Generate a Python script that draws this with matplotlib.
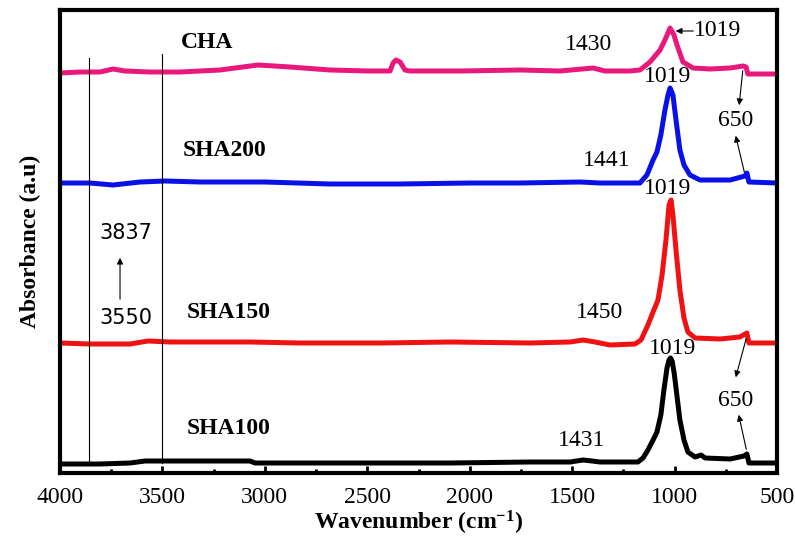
import matplotlib.pyplot as plt
from matplotlib.ticker import MultipleLocator

plt.rcParams['font.family'] = ['Liberation Serif', 'DejaVu Serif']
plt.rcParams['mathtext.fontset'] = 'custom'
plt.rcParams['mathtext.rm'] = 'Liberation Serif'
plt.rcParams['mathtext.bf'] = 'Liberation Serif:bold'
plt.rcParams['mathtext.default'] = 'regular'

cha_wn = [4000, 3902, 3805, 3741, 3683, 3561, 3414, 3219, 3033, 2877, 2682, 2487, 2389,
          2374, 2360, 2340, 2316, 2292, 2047, 1754, 1559, 1398, 1340, 1218, 1169, 1120,
          1071, 1047, 1022, 1003, 988, 959, 910, 827, 729, 666, 651, 642, 500]
cha_abs = [400, 401, 401, 404, 402, 401, 401, 403, 408, 406, 403, 402, 402,
           410, 413, 411, 403, 402, 402, 403, 402, 405, 402, 402, 403, 411,
           423, 433, 445, 438, 428, 411, 405, 404, 405, 407, 406, 399, 399]

sha200_wn = [4000, 3854, 3741, 3609, 3487, 3317, 2999, 2682, 2340, 1999, 1754, 1462, 1364,
             1169, 1135, 1105, 1086, 1067, 1047, 1032, 1022, 1008, 993, 974, 954, 925,
             876, 729, 656, 647, 637, 500]
sha200_abs = [290, 290, 288, 291, 292, 291, 291, 289, 289, 290, 290, 291, 290,
              290, 298, 313, 321, 338, 363, 378, 385, 378, 353, 323, 308, 298,
              293, 293, 297, 300, 291, 290]

sha150_wn = [4000, 3854, 3658, 3570, 3463, 3073, 2828, 2438, 2096, 1706, 1510, 1447, 1388,
             1315, 1193, 1164, 1130, 1105, 1081, 1061, 1042, 1027, 1017, 1008, 993, 974,
             954, 935, 900, 778, 681, 656, 647, 637, 500]
sha150_abs = [130, 129, 129, 132, 131, 131, 130, 130, 131, 130, 131, 133, 131,
              128, 129, 133, 148, 161, 173, 198, 233, 268, 273, 258, 223, 183,
              155, 141, 135, 134, 136, 139, 140, 130, 130]

sha100_wn = [4000, 3805, 3658, 3585, 3317, 3073, 3048, 2584, 2096, 1706, 1510, 1447, 1403,
             1364, 1179, 1154, 1130, 1105, 1086, 1067, 1052, 1037, 1027, 1020, 1012, 1002, 993, 974,
             954, 935, 900, 871, 851, 729, 661, 647, 637, 500]
sha100_abs = [9, 9, 10, 12, 12, 12, 10, 10, 10, 11, 11, 13, 12,
              11, 11, 15, 23, 33, 41, 58, 83, 105, 113, 115, 112, 100, 85, 53,
              33, 21, 16, 18, 15, 14, 17, 19, 10, 10]

tick_pos = [4000, 3500, 3000, 2500, 2000, 1500, 1000, 500]
tick_lbl = ['4000', '3500', '3000', '2500', '2000', '1500', '1000', '500']

fig = plt.figure(figsize=(7.95, 5.4), dpi=100)
ax = fig.add_axes([60 / 795, 1 - 473 / 540, 717 / 795, 463 / 540])

lw = 3.6
ax.plot(cha_wn, cha_abs, color='#e8187c', lw=lw)
ax.plot(sha200_wn, sha200_abs, color='#0a10e8', lw=lw)
ax.plot(sha150_wn, sha150_abs, color='#f01212', lw=lw)
ax.plot(sha100_wn, sha100_abs, color='black', lw=lw)

# marker lines for the OH region
ax.plot([3858, 3858], [10, 415], color='black', lw=0.8)
ax.plot([3502, 3502], [10, 419], color='black', lw=0.8)

bold = dict(fontsize=17, fontweight='bold', ha='center', va='center')
ax.text(3282, 431, 'CHA', **bold)
ax.text(3195, 323, 'SHA200', **bold)
ax.text(3175, 160, 'SHA150', **bold)
ax.text(3175, 45, 'SHA100', **bold)

num = dict(fontsize=17, ha='center', va='center')
ax.text(1418, 428, '1430', **num)
ax.text(790, 442, '1019', **num)
ax.text(1032, 397, '1019', **num)
ax.text(700, 352, '650', **num)
ax.text(1330, 313, '1441', **num)
ax.text(1032, 285, '1019', **num)
ax.text(1364, 160, '1450', **num)
ax.text(1008, 125, '1019', **num)
ax.text(700, 73, '650', **num)
ax.text(1452, 33, '1431', **num)

sans = dict(fontsize=15, ha='center', va='center', family='DejaVu Sans')
ax.text(3678, 240, '3837', **sans)
ax.text(3678, 155, '3550', **sans)

arr = dict(arrowstyle='-|>', color='black', lw=0.8, mutation_scale=9)
ax.annotate('', xy=(1008, 442), xytext=(895, 442), arrowprops=arr)
ax.annotate('', xy=(686, 365), xytext=(666, 405), arrowprops=arr)
ax.annotate('', xy=(705, 340), xytext=(656, 298), arrowprops=arr)
ax.annotate('', xy=(705, 93), xytext=(647, 137), arrowprops=arr)
ax.annotate('', xy=(690, 61), xytext=(647, 21), arrowprops=arr)
ax.annotate('', xy=(3707, 218), xytext=(3707, 171), arrowprops=arr)

ax.set_xlim(4000, 500)
ax.set_ylim(0, 463)
ax.set_xticks(tick_pos, tick_lbl, fontfamily='Liberation Serif', fontsize=17)
ax.xaxis.set_minor_locator(MultipleLocator(250))
ax.tick_params(axis='x', which='major', direction='in', length=5, width=2,
               pad=10, top=False)
ax.tick_params(axis='x', which='minor', direction='in', length=3, width=2, top=False)
ax.set_yticks([])
for s in ax.spines.values():
    s.set_linewidth(3)

ax.set_xlabel('Wavenumber (cm$^{-1}$)', fontsize=17, fontweight='bold', labelpad=1)
ax.set_ylabel('Absorbance (a.u)', fontsize=17, fontweight='bold', labelpad=14)

fig.savefig('out.png', dpi=100)
